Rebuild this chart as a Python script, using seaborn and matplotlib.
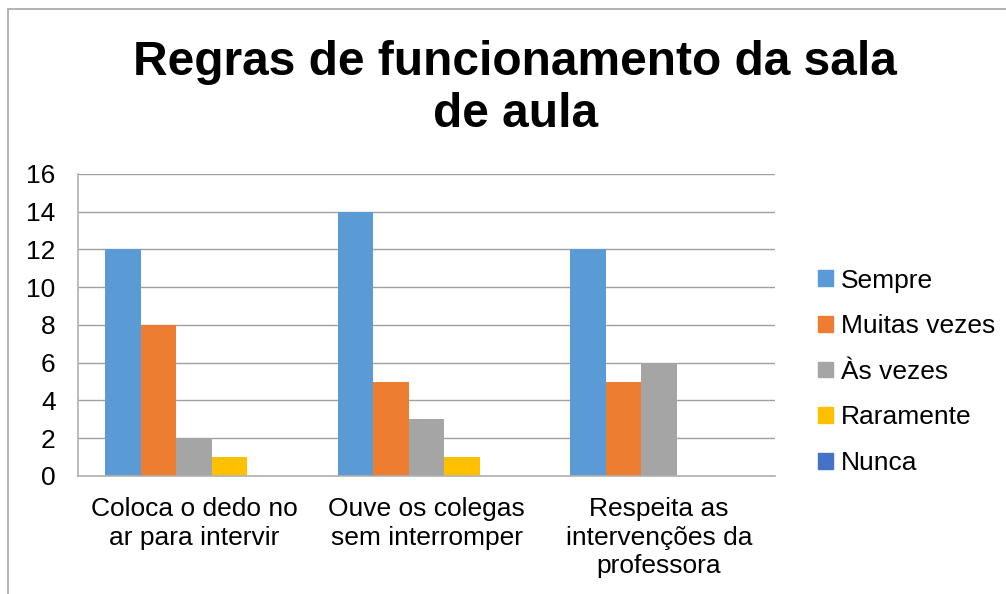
import pandas as pd
import matplotlib.pyplot as plt
import matplotlib.patches as mpatches
import seaborn as sns

sns.set_theme(style="white")
plt.rcParams['font.family'] = ['Liberation Sans', 'DejaVu Sans']
plt.rcParams['text.color'] = 'black'

# data
categories = ["Coloca o dedo no\nar para intervir",
              "Ouve os colegas\nsem interromper",
              "Respeita as\nintervenções da\nprofessora"]
series = ["Sempre", "Muitas vezes", "Às vezes", "Raramente", "Nunca"]
sempre = [12, 14, 12]
muitas_vezes = [8, 5, 5]
as_vezes = [2, 3, 6]
raramente = [1, 1, 0]
nunca = [0, 0, 0]
colors = ["#5B9BD5", "#ED7D31", "#A5A5A5", "#FFC000", "#4472C4"]

rows = []
for name, vals in zip(series, [sempre, muitas_vezes, as_vezes, raramente, nunca]):
    for cat, v in zip(categories, vals):
        rows.append({"categoria": cat, "resposta": name, "valor": v})
df = pd.DataFrame(rows)

fig = plt.figure(figsize=(10.06, 5.94), dpi=100)
ax = fig.add_axes([0.0775, 0.1987, 0.693, 0.5084])

sns.barplot(data=df, x="categoria", y="valor", hue="resposta",
            order=categories, hue_order=series, palette=colors,
            width=0.764, saturation=1, edgecolor="none", ax=ax, legend=False)

ax.set_ylim(0, 16)
ax.set_yticks(range(0, 17, 2))
ax.set_xlim(-0.5, 2.5)
ax.set_xlabel("")
ax.set_ylabel("")
ax.yaxis.grid(True, color="#a0a0a0", linewidth=1)
ax.set_axisbelow(True)
for side in ["top", "right"]:
    ax.spines[side].set_visible(False)
for side in ["left", "bottom"]:
    ax.spines[side].set_color("#b0b0b0")
    ax.spines[side].set_linewidth(1.2)
ax.tick_params(axis="y", length=0, pad=16, labelsize=19, labelcolor="black")
ax.tick_params(axis="x", length=0, pad=15, labelsize=19, labelcolor="black")
for lbl in ax.get_xticklabels():
    lbl.set_linespacing(1.25)

# legend
handles = [mpatches.Patch(color=c, label=s) for s, c in zip(series, colors)]
leg = fig.legend(handles=handles, loc="center left", bbox_to_anchor=(0.803, 0.374),
                 frameon=False, fontsize=19, handlelength=0.55, handleheight=0.55,
                 handletextpad=0.3, labelspacing=0.82, borderaxespad=0)
for t in leg.get_texts():
    t.set_color("black")

fig.text(0.512, 1 - 40 / 594, "Regras de funcionamento da sala\nde aula",
         ha="center", va="top", fontsize=34.5, fontweight="bold",
         linespacing=1.2, color="black")

# chart frame
fig.add_artist(mpatches.Rectangle((8 / 1006, -0.1), 1.1, 1 - 9 / 594 + 0.1,
                                  transform=fig.transFigure, fill=False,
                                  edgecolor="#a6a6a6", linewidth=1.2))

fig.savefig("out.png", dpi=100)
